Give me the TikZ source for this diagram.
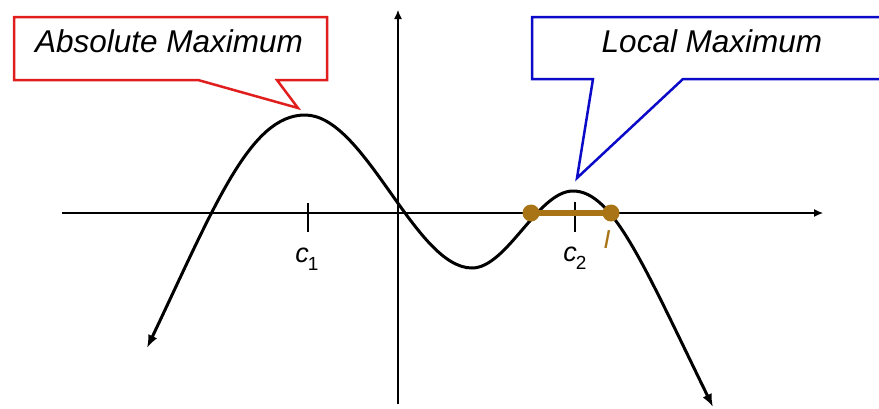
\documentclass[tikz,border=0pt]{standalone}
\usepackage{fontspec}
\setmainfont{Liberation Sans}
\usetikzlibrary{arrows.meta}
\definecolor{redc}{RGB}{225,30,30}
\definecolor{bluec}{RGB}{10,10,200}
\definecolor{brownc}{RGB}{168,116,22}
\begin{document}
\begin{tikzpicture}[x=1pt,y=-1pt,
  axis/.style={line width=1.2pt,-{Latex[length=9pt,width=8pt]}},
  curveline/.style={line width=3pt,{Latex[length=13pt,width=10pt]}-{Latex[length=13pt,width=10pt]}},
  tickmark/.style={line width=2.5pt},
  callred/.style={draw=redc,line width=2.5pt,fill=white,line join=miter},
  callblue/.style={draw=bluec,line width=2.5pt,fill=white,line join=miter},
  calltext/.style={anchor=base,font=\fontsize{31.5}{36}\selectfont\itshape},
  clabel/.style={anchor=base,font=\fontsize{27}{30}\selectfont},
  dotnode/.style={circle,fill=brownc,minimum size=17pt,inner sep=0pt}]
\useasboundingbox (0,0) rectangle (879,408);
\clip (0,0) rectangle (879,408);
% axes
\coordinate (xl) at (62,213);
\coordinate (xr) at (823,213);
\coordinate (yb) at (398,404);
\coordinate (yt) at (398,10);
\draw[axis] (xl) -- (xr);
\draw[axis] (yb) -- (yt);
% curve
\coordinate (p0) at (147,348);
\coordinate (p1) at (305,115);
\coordinate (p2) at (472,268);
\coordinate (p3) at (573,191);
\coordinate (p4) at (713,407);
\draw[curveline] (p0) .. controls (215,205) and (250,115) .. (p1)
  .. controls (365,115) and (415,268) .. (p2)
  .. controls (507,268) and (538,191) .. (p3)
  .. controls (613,191) and (644,266) .. (p4);
% ticks
\coordinate (t1a) at (308,203); \coordinate (t1b) at (308,232);
\coordinate (t2a) at (575,202); \coordinate (t2b) at (575,232);
\draw[tickmark] (t1a) -- (t1b);
\draw[tickmark] (t2a) -- (t2b);
\node[clabel] (c1) at (307,262) {\textit{c}\kern-1pt\raisebox{-8pt}{\fontsize{19}{21}\selectfont 1}};
\node[clabel] (c2) at (575,261) {\textit{c}\kern-1pt\raisebox{-8pt}{\fontsize{19}{21}\selectfont 2}};
% interval
\node[dotnode] (ia) at (531,213) {};
\node[dotnode] (ib) at (611,213) {};
\draw[brownc,line width=5.5pt] (ia.center) -- (ib.center);
\node[anchor=base,text=brownc,font=\fontsize{26}{30}\selectfont\itshape] (ilab) at (607,248) {I};
% callouts
\draw[callred] (14,17) -- (327,17) -- (327,80) -- (277,80) -- (298,108) -- (198,80) -- (14,80) -- cycle;
\node[calltext] (abs) at (169,52) {Absolute Maximum};
\draw[callblue] (532,17) -- (885,17) -- (885,79) -- (683,79) -- (577,178) -- (593,79) -- (532,79) -- cycle;
\node[calltext] (loc) at (712,52) {Local Maximum};
\end{tikzpicture}
\end{document}
